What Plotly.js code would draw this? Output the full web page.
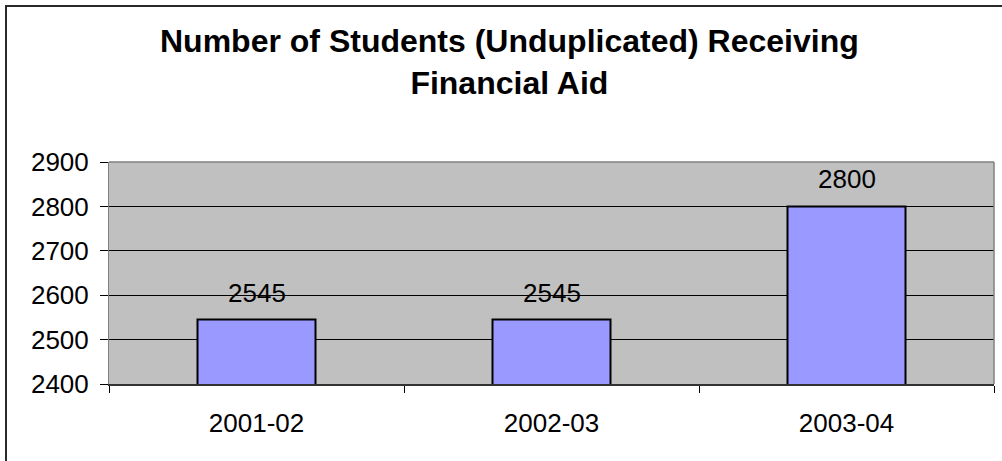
<!DOCTYPE html>
<html>
<head>
<meta charset="utf-8">
<script src="https://cdn.plot.ly/plotly-3.0.1.min.js"></script>
<style>
  html, body { margin: 0; padding: 0; background: #fff; overflow: hidden; }
  #chart { width: 1002px; height: 461px; position: absolute; left: 0; top: 0; }
  #frame { position: absolute; left: 5px; top: 5px; width: 1010px; height: 470px;
           border-left: 2px solid #2a2a2a; border-top: 2px solid #2a2a2a; pointer-events: none; }
</style>
</head>
<body>
<div id="chart"></div>
<div id="frame"></div>
<script>
const categories = ["2001-02", "2002-03", "2003-04"];
const students = [2545, 2545, 2800];
const yTicks = [2400, 2500, 2600, 2700, 2800, 2900];
const titleText = "<b>Number of Students (Unduplicated) Receiving<br>Financial Aid</b>";

const FONT = "Liberation Sans, Arial, sans-serif";

const trace = {
  type: "bar",
  x: categories,
  y: students,
  marker: { color: "#9999FF", line: { color: "#000000", width: 2 } },
  hoverinfo: "x+y"
};

const annotations = categories.map((c, i) => ({
  x: c, y: students[i], xref: "x", yref: "y",
  text: String(students[i]), showarrow: false,
  yanchor: "bottom", yshift: 10,
  font: { family: FONT, size: 26, color: "#000" }
}));

annotations.push({
  xref: "paper", yref: "paper", x: 0.4531, y: 1.4505,
  xanchor: "center", yanchor: "middle", showarrow: false,
  text: titleText, align: "center",
  font: { family: FONT, size: 32, color: "#000" }
});

const layout = {
  width: 1002, height: 461,
  margin: { l: 109, r: 8, t: 162, b: 77, pad: 0 },
  paper_bgcolor: "#ffffff",
  plot_bgcolor: "#C0C0C0",
  bargap: 0.6,
  showlegend: false,
  xaxis: {
    type: "category",
    tickson: "boundaries",
    ticks: "outside", ticklen: 7, tickcolor: "#000", tickwidth: 1,
    showline: true, linecolor: "#333", linewidth: 2,
    showgrid: false,
    tickfont: { family: FONT, size: 26, color: "#000" },
    ticklabelstandoff: 15
  },
  yaxis: {
    range: [2400, 2900],
    tickvals: yTicks,
    ticks: "outside", ticklen: 8, tickcolor: "#000", tickwidth: 1,
    showline: true, linecolor: "#808080", linewidth: 1,
    showgrid: true, gridcolor: "#000", gridwidth: 1,
    zeroline: false,
    tickfont: { family: FONT, size: 26, color: "#000" },
    ticklabelstandoff: 6
  },
  shapes: [
    { type: "line", xref: "paper", yref: "paper", x0: 0, x1: 1, y0: 1, y1: 1,
      line: { color: "#808080", width: 1.5 }, layer: "above" },
    { type: "line", xref: "paper", yref: "paper", x0: 1, x1: 1, y0: 0, y1: 1,
      line: { color: "#808080", width: 1.5 }, layer: "above" }
  ],
  annotations: annotations
};

Plotly.newPlot("chart", [trace], layout, { displayModeBar: false, staticPlot: true });
</script>
</body>
</html>
